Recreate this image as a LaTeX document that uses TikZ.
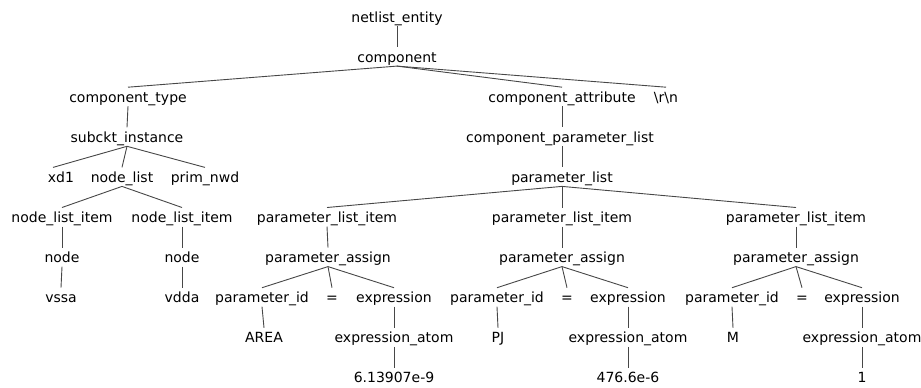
\documentclass[tikz,border=0pt]{standalone}
\usepackage{fontspec}
\setmainfont{DejaVu Sans}
\begin{document}
\begin{tikzpicture}[x=1pt,y=-1pt,
  lbl/.style={anchor=base,inner sep=0pt,font=\fontsize{14}{16}\selectfont},
  edge/.style={draw=black!72,line width=0.9pt}]
\useasboundingbox (0,0) rectangle (921,388);
% rows (baselines)
\def\ra{22}\def\rb{62.1}\def\rc{102.2}\def\rd{142.3}\def\re{182.4}
\def\rf{222.5}\def\rg{262.6}\def\rh{302.7}\def\ri{342.8}\def\rj{382.9}
\node[lbl] (ne)  at (397,\ra) {netlist\_entity};
\node[lbl] (co)  at (397,\rb) {component};
\node[lbl] (ct)  at (128,\rc) {component\_type};
\node[lbl] (ca)  at (562,\rc) {component\_attribute};
\node[lbl] (rn)  at (666,\rc) {\textbackslash r\textbackslash n};
\node[lbl] (si)  at (127,\rd) {subckt\_instance};
\node[lbl] (cpl) at (560,\rd) {component\_parameter\_list};
\node[lbl] (xd)  at (61,\re) {xd1};
\node[lbl] (nl)  at (122,\re) {node\_list};
\node[lbl] (pn)  at (205,\re) {prim\_nwd};
\node[lbl] (pl)  at (562,\re) {parameter\_list};
\node[lbl] (nia) at (62,\rf) {node\_list\_item};
\node[lbl] (nib) at (182,\rf) {node\_list\_item};
\node[lbl] (pia) at (327,\rf) {parameter\_list\_item};
\node[lbl] (pib) at (562,\rf) {parameter\_list\_item};
\node[lbl] (pic) at (796,\rf) {parameter\_list\_item};
\node[lbl] (nda) at (62,\rg) {node};
\node[lbl] (ndb) at (182,\rg) {node};
\node[lbl] (paa) at (328,\rg) {parameter\_assign};
\node[lbl] (pab) at (562,\rg) {parameter\_assign};
\node[lbl] (pac) at (796,\rg) {parameter\_assign};
\node[lbl] (vs)  at (61,\rh) {vssa};
\node[lbl] (vd)  at (182,\rh) {vdda};
\node[lbl] (ida) at (262,\rh) {parameter\_id};
\node[lbl] (eqa) at (332,\rh) {=};
\node[lbl] (exa) at (394,\rh) {expression};
\node[lbl] (idb) at (497,\rh) {parameter\_id};
\node[lbl] (eqb) at (567,\rh) {=};
\node[lbl] (exb) at (628,\rh) {expression};
\node[lbl] (idc) at (732,\rh) {parameter\_id};
\node[lbl] (eqc) at (802,\rh) {=};
\node[lbl] (exc) at (862,\rh) {expression};
\node[lbl] (ara) at (264,\ri) {AREA};
\node[lbl] (eaa) at (394,\ri) {expression\_atom};
\node[lbl] (pj)  at (498,\ri) {PJ};
\node[lbl] (eab) at (628,\ri) {expression\_atom};
\node[lbl] (mm)  at (733,\ri) {M};
\node[lbl] (eac) at (862,\ri) {expression\_atom};
\node[lbl] (va)  at (394,\rj) {6.13907e-9};
\node[lbl] (vb)  at (628,\rj) {476.6e-6};
\node[lbl] (vc)  at (862,\rj) {1};
% parent-to-child connectors
\foreach \p/\c in {ne/co, co/ct, co/ca, co/rn, ct/si, si/nl, si/pn,
  pl/pia, pl/pib, pl/pic, nl/nia, nl/nib, nia/nda, nib/ndb,
  pia/paa, pib/pab, pic/pac, nda/vs, ndb/vd,
  paa/ida, paa/eqa, paa/exa, pab/idb, pab/eqb, pab/exb, pac/idc, pac/eqc, pac/exc,
  ida/ara, exa/eaa, idb/pj, exb/eab, idc/mm, exc/eac, eaa/va, eab/vb, eac/vc}
  \draw[edge] ([yshift=-4pt]\p.base) -- ([yshift=15pt]\c.base);
\draw[edge] ([yshift=-4pt]ca.base) -- ([yshift=15pt]ca.base |- cpl.base);
\draw[edge] ([yshift=-4pt]ca.base |- cpl.base) -- ([yshift=15pt]pl.base);
\draw[edge] ([yshift=-4pt]si.base) -- ([xshift=-8pt,yshift=15pt]xd.base);
\end{tikzpicture}
\end{document}
